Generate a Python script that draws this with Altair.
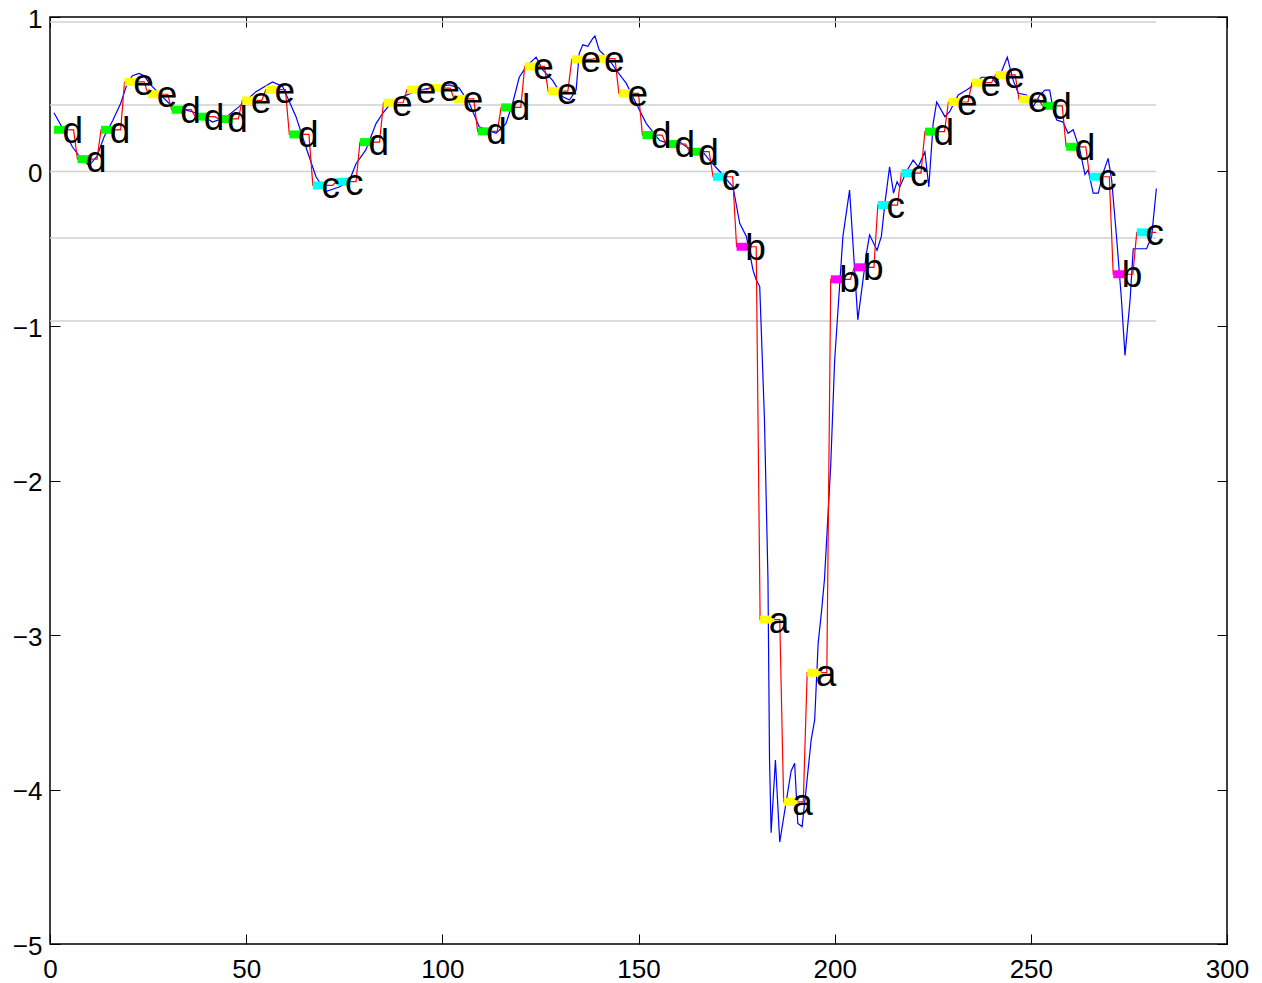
import altair as alt
import pandas as pd

# ---- data ----
seg_len = 6
n_points = 282
paa = [0.27, 0.08, 0.27, 0.58, 0.50, 0.40, 0.355, 0.34, 0.46, 0.53,
       0.24, -0.09, -0.066, 0.19, 0.445, 0.53, 0.54, 0.47, 0.26, 0.415,
       0.68, 0.52, 0.726, 0.73, 0.506, 0.236, 0.178, 0.128, -0.034, -0.487,
       -2.90, -4.08, -3.244, -0.698, -0.62, -0.217, -0.01, 0.258, 0.45, 0.575,
       0.625, 0.467, 0.425, 0.16, -0.034, -0.665, -0.394]
letters = ["d", "d", "d", "e", "e", "d", "d", "d", "e", "e",
           "d", "c", "c", "d", "e", "e", "e", "e", "d", "d",
           "e", "e", "e", "e", "e", "d", "d", "d", "c", "b",
           "a", "a", "a", "b", "b", "c", "c", "d", "e", "e",
           "e", "e", "d", "d", "c", "b", "c"]
breakpoints = [-0.9674, -0.4307, 0.0, 0.4307, 0.9674]

bx = [1, 3, 5.7, 8, 10, 12, 13.8, 16, 18, 19.7, 21, 22.7, 24, 25.3, 27.8, 31.2, 34, 36.3, 39, 41.4,
      44.8, 48.2, 52.5, 56.7, 59.3, 62.7, 65.2, 67.8, 70.3, 73.7, 76.3, 78, 80.5, 83.1, 84.8, 86.5,
      89.9, 93.3, 96.7, 101.8, 104.3, 106.9, 109.4, 113.7, 116.2, 117.9, 119.6, 121.4, 123.9, 125.6,
      128.1, 130.7, 132.4, 134.1, 134.9, 135.8, 137.1, 138.3, 138.9, 140, 142.6, 144.3, 146.9, 149.4,
      152, 155.4, 157.9, 160, 162.2, 164.7, 166, 168.1, 170.7, 174.1, 175.8, 177.5, 179.2, 180, 180.9,
      182.1, 183.0, 183.4, 183.8, 184.9, 186.0, 187.2, 188.9, 189.8, 190.6, 191.7, 192.8, 194.0, 194.9,
      195.8, 196.6, 197.4, 199.0, 200, 202.1, 203.8, 205.9, 208.1, 208.9, 210.8, 211.9, 212.8, 214,
      215, 215.9, 216.6, 218.3, 220, 221.3, 223, 224, 225.1, 226, 228.1, 229.3, 231.5, 233.6, 236.1,
      237.4, 240, 241.2, 242.5, 244, 245.5, 246.8, 248.9, 250.6, 252.3, 253.6, 254.8, 255.7, 256.6,
      258.2, 259.5, 260.8, 262.5, 263.8, 264.6, 265.9, 267.2, 268.4, 269.7, 270.6, 271.9, 273.1, 274,
      275.3, 276.1, 277.8, 279.5, 280.8, 282]
by = [0.38, 0.29, 0.16, 0.08, 0.04, 0.1, 0.225, 0.33, 0.44, 0.57, 0.62, 0.635, 0.62, 0.57, 0.506, 0.42, 0.40, 0.387, 0.36, 0.32,
      0.35, 0.42, 0.517, 0.58, 0.55, 0.355, 0.16, -0.034, -0.13, -0.1, -0.06, 0.05, 0.14, 0.31, 0.377, 0.43,
      0.484, 0.52, 0.54, 0.56, 0.54, 0.44, 0.29, 0.247, 0.31, 0.44, 0.61, 0.68, 0.74, 0.657,
      0.59, 0.484, 0.463, 0.527, 0.765, 0.82, 0.81, 0.86, 0.877, 0.786, 0.72, 0.657, 0.57, 0.44,
      0.31, 0.2, 0.18, 0.2, 0.16, 0.128, 0.14, 0.074, 0.0, -0.1, -0.335, -0.42, -0.64, -0.7, -0.745,
      -1.6, -2.64, -3.81, -4.28, -3.81, -4.34, -4.15, -3.88, -3.83, -4.22, -4.24, -3.98, -3.68, -3.55,
      -3.05, -2.86, -2.64, -1.9, -1.22, -0.42, -0.12, -0.96, -0.53, -0.41, -0.51, -0.42, -0.206, 0.03,
      -0.14, -0.066, -0.1, 0.0, 0.074, 0.03, 0.128, -0.1, 0.31, 0.45, 0.355, 0.387, 0.495, 0.527, 0.57,
      0.61, 0.61, 0.57, 0.646, 0.74, 0.59, 0.506, 0.495, 0.42, 0.495, 0.527, 0.527, 0.4, 0.333,
      0.32, 0.247, 0.27, 0.14, -0.02, 0.01, -0.14, -0.14, -0.01, 0.085, -0.055, -0.44, -0.83, -1.19,
      -0.83, -0.5, -0.5, -0.5, -0.42, -0.11]

x_ticks = [0, 50, 100, 150, 200, 250, 300]
y_ticks = [-5, -4, -3, -2, -1, 0, 1]
sym_domain = ["a", "b", "c", "d", "e"]
sym_colors = ["#ffff00", "#ff00ff", "#00ffff", "#00ff00", "#ffff00"]

# ---- tables ----
blue_df = pd.DataFrame({"x": bx, "y": by, "i": range(len(bx))})
starts = [seg_len * i + 1 for i in range(len(paa))]
red_x, red_y = [], []
for s, v in zip(starts, paa):
    red_x += [s, s + seg_len - 1]
    red_y += [v, v]
red_df = pd.DataFrame({"x": red_x, "y": red_y, "i": range(len(red_x))})
seg_df = pd.DataFrame({
    "x0": starts,
    "x1": [s + 3.6 for s in starts],
    "tx": [s + 2.2 for s in starts],
    "v": paa,
    "sym": letters,
})
grid_df = pd.DataFrame({"y": breakpoints, "x0": [0] * len(breakpoints),
                        "x1": [n_points] * len(breakpoints)})

xs = alt.Scale(domain=[0, 300], nice=False, zero=False)
ys = alt.Scale(domain=[-5, 1], nice=False, zero=False)
FONT = "Liberation Sans"

def ax(orient, labels=True, values=None, pad=8, loff=0):
    return alt.Axis(orient=orient, values=values, offset=-10, tickSize=10, domain=False,
                    grid=False, labels=labels, labelFontSize=26, labelFont=FONT,
                    labelColor="black", tickColor="black", tickWidth=1,
                    labelPadding=pad, labelFlush=False, labelOffset=loff, title=None)

grid = alt.Chart(grid_df).mark_rule(color="#d0d0d0", strokeWidth=1.5).encode(
    x=alt.X("x0:Q", scale=xs, axis=ax("top", False, x_ticks)),
    x2="x1:Q",
    y=alt.Y("y:Q", scale=ys, axis=ax("right", False, y_ticks)),
)

blue = alt.Chart(blue_df).mark_line(color="#0000ff", strokeWidth=1.2).encode(
    x=alt.X("x:Q", scale=xs, axis=ax("bottom", True, x_ticks, 12)),
    y=alt.Y("y:Q", scale=ys, axis=ax("left", True, y_ticks, 8, 2)),
    order="i:Q",
)

red = alt.Chart(red_df).mark_line(color="#ff0000", strokeWidth=1.2).encode(
    x=alt.X("x:Q", scale=xs, axis=None),
    y=alt.Y("y:Q", scale=ys, axis=None),
    order="i:Q",
)

bars = alt.Chart(seg_df).mark_rule(strokeWidth=8, strokeCap="butt").encode(
    x=alt.X("x0:Q", scale=xs, axis=None),
    x2="x1:Q",
    y=alt.Y("v:Q", scale=ys, axis=None),
    color=alt.Color("sym:N", scale=alt.Scale(domain=sym_domain, range=sym_colors), legend=None),
)

text = alt.Chart(seg_df).mark_text(font=FONT, fontSize=37, align="left", baseline="middle",
                                   dy=2, color="black").encode(
    x=alt.X("tx:Q", scale=xs, axis=None),
    y=alt.Y("v:Q", scale=ys, axis=None),
    text="sym:N",
)

chart = alt.layer(grid, blue, red, bars, text).resolve_axis(
    x="independent", y="independent"
).properties(
    width=1177, height=927,
    padding={"left": 42, "top": 9, "right": 27, "bottom": 39},
    autosize=alt.AutoSizeParams(type="none"),
    background="white",
).configure_view(stroke="black", strokeWidth=1.5)

chart.save("out.html", embed_options={"renderer": "svg", "actions": False})
